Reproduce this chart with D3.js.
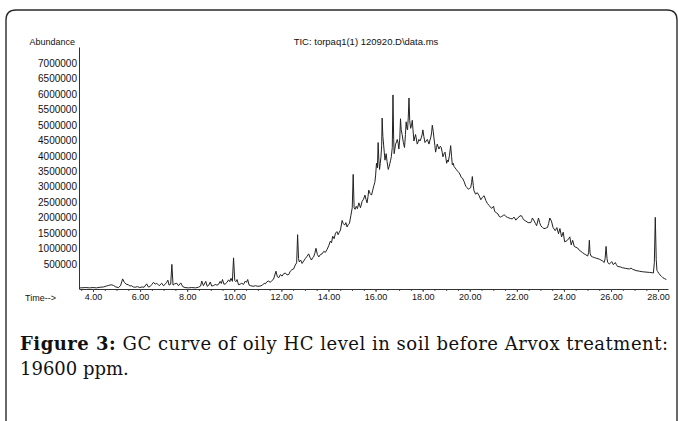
<!DOCTYPE html>
<html>
<head>
<meta charset="utf-8">
<script src="https://cdn.jsdelivr.net/npm/d3@7"></script>
<style>
  html, body { margin: 0; padding: 0; background: #fff; }
  svg { display: block; }
</style>
</head>
<body>
<svg id="chart" width="678" height="421"></svg>
<script>
// ---- data ----
const chartTitle = "TIC: torpaq1(1) 120920.D\\data.ms";
const yAxisLabel = "Abundance";
const xAxisLabel = "Time-->";
const yTickValues = [500000, 1000000, 1500000, 2000000, 2500000, 3000000, 3500000,
                     4000000, 4500000, 5000000, 5500000, 6000000, 6500000, 7000000];
const xTickValues = [4, 6, 8, 10, 12, 14, 16, 18, 20, 22, 24, 26, 28];

const retentionTime = [
3.45,3.70,3.85,4.00,4.15,4.30,4.45,4.57,4.67,4.77,4.87,4.97,5.08,5.17,5.26,5.33,5.41,5.50,5.57,5.64,
5.71,5.79,5.89,5.99,6.08,6.17,6.28,6.35,6.42,6.50,6.57,6.64,6.71,6.81,6.92,6.99,7.06,7.13,7.18,7.23,
7.30,7.35,7.40,7.47,7.56,7.63,7.73,7.81,7.91,8.05,8.20,8.35,8.48,8.57,8.62,8.69,8.79,8.85,8.92,8.98,
9.04,9.11,9.19,9.26,9.33,9.40,9.45,9.50,9.56,9.61,9.69,9.76,9.81,9.86,9.92,9.97,10.02,10.07,10.12,10.18,
10.25,10.32,10.39,10.47,10.52,10.57,10.63,10.70,10.80,10.90,11.00,11.10,11.20,11.27,11.32,11.39,11.46,11.53,11.60,11.67,
11.77,11.83,11.89,11.96,12.03,12.10,12.17,12.24,12.31,12.38,12.45,12.52,12.59,12.65,12.69,12.73,12.76,12.82,12.88,12.95,
13.02,13.09,13.16,13.22,13.28,13.33,13.37,13.42,13.47,13.53,13.59,13.66,13.73,13.80,13.87,13.94,14.01,14.08,14.13,14.18,
14.24,14.30,14.36,14.41,14.46,14.51,14.58,14.63,14.69,14.74,14.79,14.84,14.89,14.95,15.01,15.05,15.09,15.13,15.18,15.23,
15.29,15.36,15.43,15.49,15.55,15.60,15.64,15.68,15.71,15.77,15.83,15.88,15.93,15.97,16.00,16.04,16.08,16.11,16.14,16.17,
16.20,16.23,16.26,16.28,16.31,16.34,16.37,16.40,16.45,16.49,16.54,16.58,16.61,16.64,16.67,16.71,16.74,16.77,16.79,16.82,
16.85,16.89,16.92,16.96,16.99,17.03,17.06,17.09,17.13,17.18,17.23,17.27,17.30,17.33,17.36,17.39,17.42,17.45,17.49,17.53,
17.56,17.59,17.63,17.67,17.70,17.77,17.81,17.84,17.89,17.94,17.98,18.01,18.05,18.10,18.15,18.20,18.27,18.30,18.34,18.38,
18.41,18.45,18.48,18.52,18.55,18.59,18.62,18.69,18.75,18.79,18.83,18.86,18.91,18.95,18.99,19.02,19.06,19.09,19.14,19.19,
19.23,19.26,19.30,19.33,19.38,19.43,19.49,19.55,19.60,19.64,19.69,19.76,19.83,19.89,19.94,20.00,20.04,20.08,20.11,20.15,
20.18,20.25,20.32,20.40,20.47,20.54,20.61,20.68,20.75,20.82,20.87,20.93,21.01,21.06,21.15,21.20,21.25,21.31,21.36,21.41,
21.46,21.53,21.60,21.67,21.74,21.81,21.88,21.96,22.03,22.09,22.13,22.20,22.24,22.28,22.38,22.48,22.59,22.63,22.66,22.74,
22.79,22.84,22.88,22.92,22.97,23.02,23.09,23.15,23.20,23.25,23.30,23.35,23.40,23.47,23.54,23.63,23.70,23.77,23.83,23.90,
23.97,24.03,24.09,24.15,24.20,24.25,24.31,24.37,24.44,24.51,24.58,24.65,24.72,24.79,24.86,24.93,25.01,25.05,25.08,25.11,
25.15,25.22,25.29,25.37,25.50,25.57,25.64,25.71,25.75,25.79,25.83,25.86,25.93,25.98,26.03,26.10,26.18,26.23,26.28,26.39,
26.49,26.63,26.78,26.85,26.92,27.06,27.20,27.35,27.49,27.63,27.75,27.80,27.84,27.88,27.92,27.95,27.98,28.03,28.08,28.15,
28.20,28.27,28.35
];

const abundance = [
-270000,-260000,-270000,-260000,-270000,-250000,-240000,-210000,-190000,-170000,-190000,-240000,-260000,-200000,20000,-90000,-150000,-170000,-210000,-200000,
-240000,-250000,-230000,-260000,-240000,-250000,-140000,-240000,-230000,-160000,-90000,-150000,-120000,-200000,-120000,-200000,-160000,-90000,-20000,-180000,
-150000,490000,-180000,-140000,-120000,-200000,-110000,-230000,-260000,-270000,-260000,-270000,-250000,-210000,-50000,-200000,-60000,-220000,-180000,-80000,
-210000,-200000,-160000,-180000,-160000,-60000,-130000,0,-150000,-150000,-90000,-10000,-70000,40000,-60000,700000,-30000,-70000,0,-170000,
-150000,-120000,-160000,-50000,-90000,0,-180000,-200000,-220000,-200000,-220000,-210000,-180000,-120000,-140000,-70000,-50000,-90000,-30000,10000,
270000,90000,60000,160000,110000,190000,210000,150000,160000,270000,320000,340000,470000,540000,1450000,680000,570000,630000,520000,600000,
680000,750000,830000,710000,630000,710000,730000,850000,1010000,810000,730000,810000,830000,910000,880000,970000,1090000,1240000,1190000,1400000,
1320000,1500000,1550000,1450000,1530000,1600000,1910000,1810000,1760000,1840000,1700000,1780000,1810000,2060000,2320000,3400000,2320000,2270000,2370000,2290000,
2480000,2320000,2530000,2600000,2730000,2580000,2480000,2680000,2890000,2780000,2730000,2890000,3040000,3140000,3350000,3760000,3610000,4430000,3860000,3560000,
3760000,3970000,4330000,5220000,4630000,4380000,4120000,3860000,4070000,3810000,3560000,3660000,3760000,3860000,3970000,4270000,5970000,4530000,4070000,4220000,
4380000,4450000,4530000,4410000,4220000,4580000,5200000,4840000,4690000,4430000,4270000,4690000,5100000,4890000,4840000,5250000,5870000,5150000,4890000,4990000,
5150000,4840000,4480000,4610000,4690000,4380000,4450000,4530000,4480000,4580000,4690000,4840000,4630000,4430000,4480000,4530000,4380000,4480000,4580000,4740000,
4990000,4790000,4580000,4330000,4120000,4270000,4380000,4220000,4310000,4270000,4120000,3970000,4070000,4120000,3910000,3760000,3860000,3810000,4020000,4330000,
3970000,3710000,3760000,3660000,3610000,3560000,3500000,3450000,3380000,3300000,3280000,3170000,3020000,2970000,2920000,2950000,2970000,3140000,3330000,3040000,
2870000,2760000,2810000,2710000,2580000,2660000,2710000,2560000,2460000,2400000,2350000,2300000,2370000,2200000,2150000,2120000,2040000,2020000,2040000,2060000,
2100000,2040000,2010000,1990000,1970000,1960000,2020000,1920000,1990000,2020000,2060000,2060000,2000000,1940000,1890000,1840000,1840000,1910000,1990000,1890000,
1810000,1740000,1860000,1990000,1840000,1740000,1680000,1650000,1650000,1670000,1680000,1810000,1990000,1890000,1680000,1580000,1680000,1480000,1650000,1380000,
1530000,1220000,1240000,1270000,1320000,1380000,1120000,1270000,1070000,1040000,1020000,950000,910000,870000,830000,800000,760000,880000,1270000,850000,
760000,730000,710000,690000,660000,630000,600000,550000,680000,1070000,680000,550000,500000,540000,580000,480000,550000,480000,420000,410000,
380000,360000,340000,370000,330000,290000,270000,250000,240000,230000,220000,210000,550000,2010000,650000,300000,260000,200000,150000,100000,
60000,30000,0
];

const captionBold = "Figure 3:";
const captionRest = " GC curve of oily HC level in soil before Arvox treatment:";
const captionLine2 = "19600 ppm.";

// ---- drawing ----
const svg = d3.select("#chart");
const axisFont = "'Liberation Sans', Arial, sans-serif";
const serifFont = "'DejaVu Serif', 'Liberation Serif', serif";

// rounded frame (open at the bottom)
svg.append("path")
  .attr("d", "M6,421 L6,20 Q6,10 16,10 L667,10 Q677,10 677,20 L677,421")
  .attr("fill", "none").attr("stroke", "#2a2a2a").attr("stroke-width", 1.4);

const x = d3.scaleLinear().domain([3.406, 28.42]).range([79, 668]);
const y = d3.scaleLinear().domain([-300000, 7520000]).range([288.8, 47]);

// y axis
const yAxis = svg.append("g")
  .attr("transform", "translate(79,0)")
  .call(d3.axisLeft(y).tickValues(yTickValues).tickSize(0).tickSizeOuter(0).tickPadding(2)
        .tickFormat(d3.format("d")));
yAxis.select(".domain").attr("stroke", "#333").attr("stroke-width", 1);
yAxis.selectAll("text").attr("font-family", axisFont).attr("font-size", 10).attr("fill", "#111");

// x axis minor ticks
const minorTicks = d3.range(3.5, 28.4, 0.5);
const xMinor = svg.append("g")
  .attr("transform", "translate(0,289)")
  .call(d3.axisBottom(x).tickValues(minorTicks).tickSize(2).tickSizeOuter(0).tickFormat(""));
xMinor.select(".domain").remove();
xMinor.selectAll("line").attr("stroke", "#555");

// x axis major
const xAxis = svg.append("g")
  .attr("transform", "translate(0,289)")
  .call(d3.axisBottom(x).tickValues(xTickValues).tickSize(3).tickSizeOuter(0).tickPadding(2)
        .tickFormat(d3.format(".2f")));
xAxis.select(".domain").attr("stroke", "#333").attr("stroke-width", 1);
xAxis.selectAll("line").attr("stroke", "#444");
xAxis.selectAll("text").attr("font-family", axisFont).attr("font-size", 9).attr("fill", "#111");

// axis captions and title
svg.append("text").attr("x", 75).attr("y", 45).attr("text-anchor", "end")
  .attr("font-family", axisFont).attr("font-size", 9).attr("fill", "#111").text(yAxisLabel);
svg.append("text").attr("x", 25).attr("y", 300.5)
  .attr("font-family", axisFont).attr("font-size", 9).attr("fill", "#111").text(xAxisLabel);
svg.append("text").attr("x", 366).attr("y", 45).attr("text-anchor", "middle")
  .attr("font-family", axisFont).attr("font-size", 9.5).attr("fill", "#111").text(chartTitle);

// chromatogram trace
const pts = retentionTime.map((t, i) => [t, abundance[i]]);
svg.append("path")
  .datum(pts)
  .attr("fill", "none")
  .attr("stroke", "#222")
  .attr("stroke-width", 1)
  .attr("stroke-linejoin", "round")
  .attr("d", d3.line().x(d => x(d[0])).y(d => y(d[1])));

// figure caption
const cap = svg.append("text").attr("x", 20).attr("y", 349.5)
  .attr("font-family", serifFont)
  .attr("font-size", 18).attr("fill", "#111")
  .attr("textLength", 648).attr("lengthAdjust", "spacing");
cap.append("tspan").attr("font-weight", "bold").text(captionBold);
cap.append("tspan").text(captionRest);
svg.append("text").attr("x", 20).attr("y", 375)
  .attr("font-family", serifFont)
  .attr("font-size", 18).attr("fill", "#111").text(captionLine2);
</script>
</body>
</html>
